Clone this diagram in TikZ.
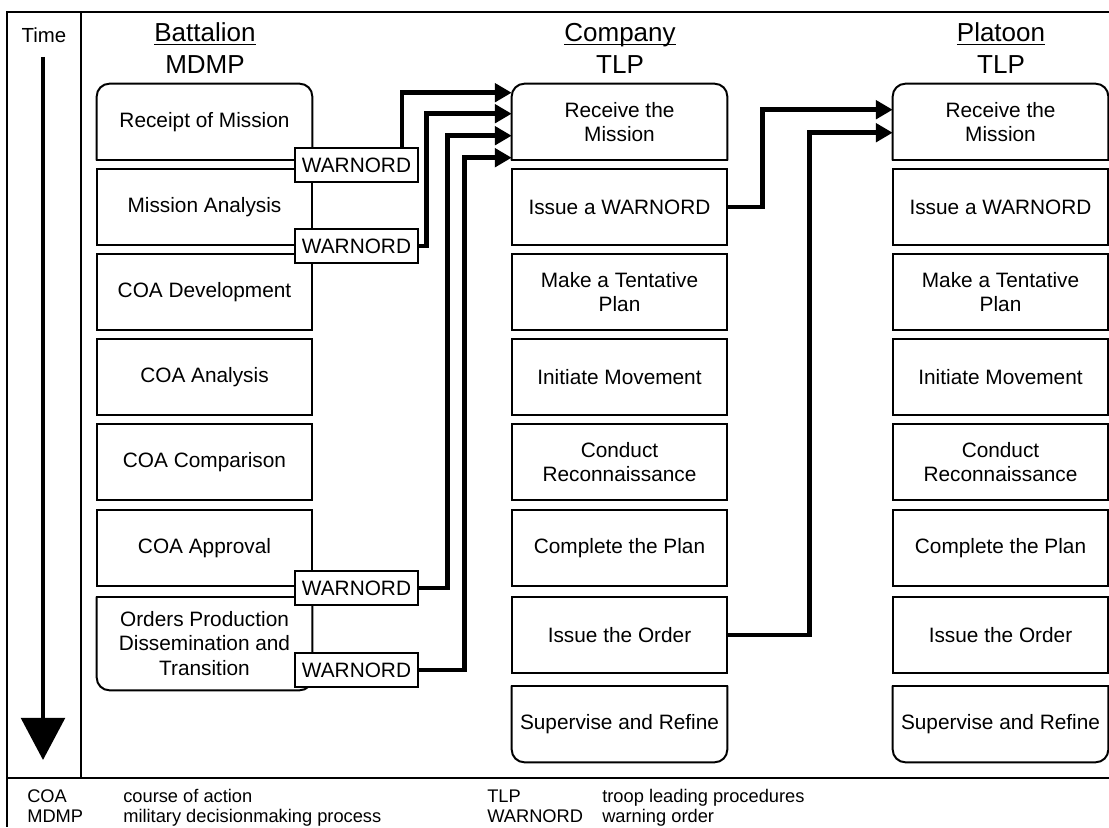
\documentclass[tikz,border=0pt]{standalone}
\usepackage{fontspec}
\setmainfont{Liberation Sans}
\usetikzlibrary{arrows.meta,calc}
\tikzstyle{boxline}=[line width=1.4pt]
\tikzstyle{stepbox}=[minimum width=5.375cm, minimum height=1.9cm, inner sep=0pt, align=center, font=\fontsize{14.8}{17.6}\selectfont]
\tikzstyle{plainbox}=[stepbox, draw, boxline]
\tikzstyle{wobox}=[draw, boxline, fill=white, minimum width=3.075cm, minimum height=0.83cm, inner sep=0pt, font=\fontsize{14.8}{17.6}\selectfont]
\tikzstyle{head}=[inner sep=0pt, anchor=base, font=\fontsize{18.5}{22}\selectfont]
\tikzstyle{legend}=[inner sep=0pt, anchor=base west, font=\fontsize{13}{15}\selectfont]
\tikzstyle{flow}=[line width=3.5pt, -{Triangle[length=12pt,width=13pt]}]

\begin{document}
\begin{tikzpicture}[x=0.025cm,y=-0.025cm]
\useasboundingbox (0,0) rectangle (1109,827);
\draw[boxline] (1109,12) -- (7,12) -- (7,827);
\draw[boxline] (81,12) -- (81,778);
\draw[boxline] (7,778) -- (1109,778);

\node[font=\fontsize{14.5}{17}\selectfont] (time) at (44,35) {Time};
\coordinate (ts) at (43,57);
\coordinate (te) at (43,760);
\draw[line width=3pt,-{Triangle[length=30pt,width=31pt]}] (ts) -- (te);

\node[head] (hb) at (205,42) {\underline{\smash{Battalion}}};
\node[head] (hbm) at (205,74) {MDMP};
\node[head] (hc) at (620,42) {\underline{\smash{Company}}};
\node[head] (hct) at (620,74) {TLP};
\node[head] (hp) at (1001,42) {\underline{\smash{Platoon}}};
\node[head] (hpt) at (1001,74) {TLP};

\node[stepbox] (b1) at (204.5,122) {Receipt of Mission};
\node[plainbox] (b2) at (204.5,207) {Mission Analysis};
\node[plainbox] (b3) at (204.5,292) {COA Development};
\node[plainbox] (b4) at (204.5,377) {COA Analysis};
\node[plainbox] (b5) at (204.5,462) {COA Comparison};
\node[plainbox] (b6) at (204.5,548) {COA Approval};
\node[stepbox, minimum height=2.325cm] (b7) at (204.5,643.5) {Orders Production\\Dissemination and\\Transition};

\node[stepbox] (c1) at (619.5,122) {Receive the\\Mission};
\node[plainbox] (c2) at (619.5,207) {Issue a WARNORD};
\node[plainbox] (c3) at (619.5,292) {Make a Tentative\\Plan};
\node[plainbox] (c4) at (619.5,377) {Initiate Movement};
\node[plainbox] (c5) at (619.5,462) {Conduct\\Reconnaissance};
\node[plainbox] (c6) at (619.5,548) {Complete the Plan};
\node[plainbox] (c7) at (619.5,635) {Issue the Order};
\node[stepbox] (c8) at (619.5,724) {Supervise and Refine};

\node[stepbox] (p1) at (1000.5,122) {Receive the\\Mission};
\node[plainbox] (p2) at (1000.5,207) {Issue a WARNORD};
\node[plainbox] (p3) at (1000.5,292) {Make a Tentative\\Plan};
\node[plainbox] (p4) at (1000.5,377) {Initiate Movement};
\node[plainbox] (p5) at (1000.5,462) {Conduct\\Reconnaissance};
\node[plainbox] (p6) at (1000.5,548) {Complete the Plan};
\node[plainbox] (p7) at (1000.5,635) {Issue the Order};
\node[stepbox] (p8) at (1000.5,724) {Supervise and Refine};

\foreach \n in {b1,c1,p1}{
  \draw[boxline, rounded corners=9pt] (\n.south west) -- (\n.north west) -- (\n.north east) -- (\n.south east);
  \draw[boxline, line cap=rect] (\n.south west) -- (\n.south east);
}
\foreach \n in {b7,c8,p8}{
  \draw[boxline, rounded corners=9pt] (\n.north west) -- (\n.south west) -- (\n.south east) -- (\n.north east);
  \draw[boxline, line cap=rect] (\n.north west) -- (\n.north east);
}

\node[wobox] (w1) at (356.5,165) {WARNORD};
\node[wobox] (w2) at (356.5,246) {WARNORD};
\node[wobox] (w3) at (356.5,588) {WARNORD};
\node[wobox] (w4) at (356.5,670) {WARNORD};

\draw[flow] ($(w1.north)+(45.5,0)$) |- ($(c1.north west)+(0,9)$);
\draw[flow] (w2.east) -| ($(c1.north west)+(-85,30)$) -- ($(c1.north west)+(0,30)$);
\draw[flow] (w3.east) -| ($(c1.north west)+(-64,52)$) -- ($(c1.north west)+(0,52)$);
\draw[flow] (w4.east) -| ($(c1.north west)+(-47,74)$) -- ($(c1.north west)+(0,74)$);
\draw[flow] (c2.east) -| ($(p1.north west)+(-130,26)$) -- ($(p1.north west)+(0,26)$);
\draw[flow] (c7.east) -| ($(p1.north west)+(-83,49)$) -- ($(p1.north west)+(0,49)$);

\node[legend] (lcoa) at (27,802) {COA};
\node[legend] (lcoat) at (123,802) {course of action};
\node[legend] (lmdmp) at (27,822) {MDMP};
\node[legend] (lmdmpt) at (123,822) {military decisionmaking process};
\node[legend] (ltlp) at (487,802) {TLP};
\node[legend] (ltlpt) at (602,802) {troop leading procedures};
\node[legend] (lwo) at (487,822) {WARNORD};
\node[legend] (lwot) at (602,822) {warning order};
\end{tikzpicture}
\end{document}
